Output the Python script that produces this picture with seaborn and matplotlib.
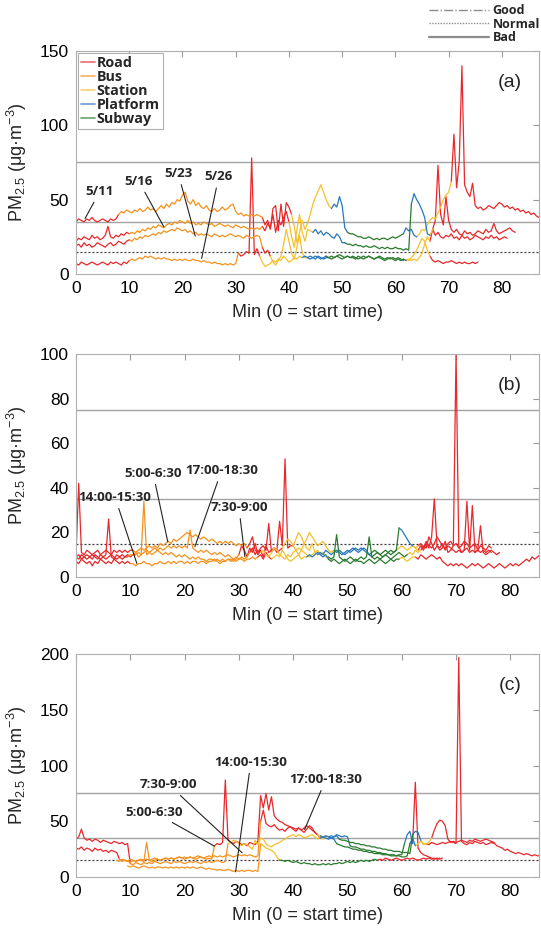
import numpy as np
import pandas as pd
import matplotlib
matplotlib.use("Agg")
import matplotlib.pyplot as plt
import seaborn as sns
from matplotlib.lines import Line2D

sns.set_theme(style="white")
plt.rcParams["font.family"] = ["Liberation Sans", "DejaVu Sans"]
plt.rcParams["mathtext.fontset"] = "custom"
plt.rcParams["mathtext.rm"] = "Liberation Sans"
plt.rcParams["mathtext.it"] = "Liberation Sans"

MODES = ["Road", "Bus", "Station", "Platform", "Subway"]
COLORS = {"Road": "#e8282b", "Bus": "#f5921e", "Station": "#f6c02c",
          "Platform": "#2878bd", "Subway": "#2a7b2e"}

# ---------------- Panel (a) : trips by date ----------------
A_0511 = [
    ("Road", 0, [35,37,36,35,37,36,38,36,35,36,37,36,35,37,36,37]),
    ("Bus", 8, [40,42,41,43,42,41,43,42,44,42,43,45,43,44,42,44,46,44,47,45,48,47,50,49,53,55,49,47,50,46,48,45,44,46,43,42,44,42,43,45,43,44,46,47,42,40,41,39,40,39,40,39,40,39]),
    ("Road", 35, [38,33,36,30,44,46,29,47,32,48,45]),
    ("Station", 40.5, [40,32,21,28,36,30,34,40,47,52,56,60,55,50,46]),
    ("Platform", 48, [44,47,45,52,46,31]),
    ("Subway", 51, [28,27,27,26,25,25,24,24,25,24,23,24,23,24,24,23,24,25,24,25,26]),
    ("Platform", 61.5, [27,31,29,30,26]),
    ("Station", 64, [25,27,30,29,33,36,38,37,41,45,50,53,55]),
    ("Road", 70.5, [62,94,58,76,140,60,55,52,61,46,44,45,43,44,46,45,44,46,48,47,45,46,44,45,43,44,42,43,41,42,40,41,39,38]),
]
A_0516 = [
    ("Road", 0, [22,24,23,25,24,23,26,24,25,23,24,26,32,25,24,26,25,27,26,28]),
    ("Bus", 10, [27,28,27,29,28,30,29,31,30,32,31,33,32,31,33,34,33,35,34,36,35,34,36,34,35,33,34,33,35,34,33,34,32,33,34,33,32,33,32,31,33,32,31,32,31,30,31,30,31,30]),
    ("Road", 35, [32,29,34,31,40,28,36,33,38,42]),
    ("Station", 40, [35,25,18,30,40,28,22,30,29]),
    ("Platform", 44.5, [28,30,27,29,26,28,27,25,24,27,25,21]),
    ("Subway", 50.5, [21,20,20,19,20,19,19,18,19,18,18,19,18,17,18,17,18,17,17,18,17,17,16,17,16]),
    ("Platform", 63, [47,54,50,47,43,38,27]),
    ("Station", 66.5, [26]),
    ("Road", 67, [30,36,73,40,33,52,36,30,28,30,27,26,29,27,28,26,27,29,28,27,30,28,29,34,29,27,28,29,30,31,29,28]),
]
A_0523 = [
    ("Road", 0, [19,20,18,21,19,20,18,19,21,20,19,18,20,21,19,20,22,21,20,22]),
    ("Bus", 10, [23,22,24,23,25,24,26,25,26,27,26,28,27,29,28,29,30,29,31,30,29,30,28,29,27,28,26,27,26,27,26,25,27,26,25,26,25,26,27,26,25,26,25,24,26,25,24,25,26,25]),
    ("Road", 35, [18,14,16]),
    ("Station", 36.5, [12,8,6,9,12,20,30,22,14,10,18,26,14,11]),
    ("Platform", 43.5, [11,12,11,10,12,11,10,11]),
    ("Subway", 47.5, [11,10,11,12,11,10,11,12,11,11,10,12,11,10,11,12,11,10,11,11,10,9,10,11,10,9,10,9]),
    ("Platform", 61.5, [10]),
    ("Station", 62, [9,10,9,10,9,11,14,20,25]),
    ("Road", 66.5, [22,30,26,28,25,24,26,25,27,24,25,23,26,24,25,23,24,26,25,24,23,25,24,26,24,25,23,24,25,24]),
]
A_0526 = [
    ("Road", 0, [7,6,8,7,6,7,8,7,6,7,8,7,6,8,7,8,7,6,8,7]),
    ("Bus", 10, [9,10,9,10,11,10,12,11,12,11,10,11,10,11,10,10,9,10,9,10,9,10,9,9,10,9,9,8,9,8,8,7,8,7,7,6,7,6,7,6,7]),
    ("Road", 30.5, [14,12,13,15,14,78,13,17]),
    ("Station", 34.5, [12,8,5,6,7,9,8,10,9,12,10,8,9,11,10,12]),
    ("Platform", 42.5, [11,12,11,10,11,12,11,10,11]),
    ("Subway", 47, [12,11,12,11,12,13,12,11,12,11,12,11,10,11,12,11,12,11,10,11,12,11,10,11,10,11,10,11]),
    ("Platform", 61, [10]),
    ("Station", 61.5, [9,10,9,11,13,16,20,24,22,16]),
    ("Road", 66.5, [12,9,8,9,8,7,8,8,9,8,7,8,7,8,7,7,8,7,8]),
]

# ---------------- Panel (b) : trips by time slot ----------------
B_1400 = [
    ("Road", 0, [7,6,8,7,6,7,5,7,6,8,7,6,7,6,8,7,6,7,6,7]),
    ("Bus", 10, [6,6,5,6,6,7,6,6,5,6,6,7,6,6,7,6,7,6,7,7,6,7,6,7,7,6,7,7,6,7,7,8,7,6,7,7,8,7,8,7,8,8,7,8,8,9,8]),
    ("Road", 33.5, [9,10,8,11,9]),
    ("Station", 36, [8,9,10,9,12,10,8,7,8,9,10,8,9]),
    ("Platform", 42.5, [9,10,9,10,11,10,9,10]),
    ("Subway", 46.5, [8,7,8,7,6,7,8,7,6,7,8,7,7,6,7,8,7,6,7,8,7,6,7,8,7,8]),
    ("Station", 59.5, [8,9,8,7,8,9]),
    ("Road", 62.5, [9,8,10,9,8,9,10,9,8,9,7,6,5,6,5,6,5,6,5,4,5,6,5,6,5,4,5,6,5,4,5,6,5,4,5,6,5,6,5,6,7,8,7,9,8,9,10,9]),
]
B_0500 = [
    ("Road", 0, [10,42,11,10,12,11,10,11,12,10,11,12,11,10,12,11,12,11,12,11,12]),
    ("Bus", 10.5, [12,11,12,13,12,13,14,13,14,13,15,14,15,16,15,17,16,17,18,19,20,19,18,19,18,17,18,17,16,17,16,15,16,15,16,15,16,15,14,15,14,15]),
    ("Road", 31.5, [13,15,18,12,11,13,14,12,24,11,13,12,25,14,53,13,14]),
    ("Station", 40, [14,17,20,18,15,13,12,15,11]),
    ("Platform", 44.5, [10,11,10,12,11,10,11,12,11,10,11,12,11,12,13,12,13,12,11,10]),
    ("Subway", 54.5, [9,10,11,10,9,10,11,10,11,12]),
    ("Platform", 59.5, [22,21,19,17,15]),
    ("Station", 62, [14,13]),
    ("Road", 63, [12,14,12,15,13,18,35,14,12,13,16,11,12,14,100,14,11,12,13,11,12,11,12,11,12,11,12,11]),
]
B_1700 = [
    ("Road", 0, [9,10,8,9,10,9,8,10,9,8,9,10,26,9,8,10,9,8,9,10,9,10]),
    ("Bus", 11, [10,11,10,11,12,11,12,13,12,13,12,13,14,13,14,13,14,13,14,13,21,13,12,11,12,11,12,11,10,11,10,11,10,9,10,9,8,9,8,9,8,9]),
    ("Road", 32, [11,13,10,12]),
    ("Station", 34, [11,12,10,9,11,13,12,10,9,8,10,9,11,12,13,12,11,10,9,10,11,12,10,11,9]),
    ("Subway", 46.5, [9,8,9,19,9,8,7,8,9,8,7,8,9,8,9,18,9,8,9,8,9,10,9,8,9,10,11,10,9]),
    ("Station", 61, [10,11,10,12,11]),
    ("Road", 63.5, [12,14,13,18,15,12,14,13,15,12,14,13,12,11,12,11,12,34,12,32,11,12,23,11,10,11,12,11,10,11]),
]
B_0730 = [
    ("Road", 0, [9,8,10,9,8,9,10,9,8,10,9,8,9,10,9,8,9,10,9]),
    ("Bus", 9.5, [9,10,10,11,9,10,34,10,11,10,11,12,11,10,11,10,11,10,9,10,9,10,9,8,9,8,9,8,8,7,8,8,7,8,7,8,7,8,8,7,8]),
    ("Road", 30, [10,14,12,9,13,11,15,10,12,9,14,11,12,13,11,12]),
    ("Station", 38, [13,15,17,16,14,12,10,12,15,17,20,18,16,14,15,16,14,12,11]),
    ("Platform", 47.5, [12,11,12,11,10,11,12,13,12,11,12,13,12]),
    ("Subway", 54, [10,11,12,11,10,11,12,11,12,11]),
    ("Station", 59, [12,13,14,13,12,13,14,13]),
    ("Road", 63, [14,15,13,16,14,13,15,18,16,14,13,15,16,14,15,13,14,16,15,13,14,15,12,14,13,12,14,13]),
]

# ---------------- Panel (c) : trips by time slot ----------------
C_0500 = [
    ("Road", 0, [26,25,27,24,26,25,23,26,24,25,23,24,22,24,23,22]),
    ("Bus", 8, [16,14,15,14,16,15,14,15,16,15,16,15,16,17,16,15,16,17,16,17,16,17,18,17,16,17,18,17,16,17,18,17,16,17,16]),
    ("Road", 25.5, [28,30,29,31,87,33,31,30,32,31,29,30,28,31,30,29,32,73,62,75,60,72,55,52,50,49,47,46,45,44,43,44,42,44,46,44,42,40,38]),
    ("Platform", 45, [35,36,37,36,35,36,37]),
    ("Subway", 48.5, [34,33,33,32,31,31,30,30,29,29,28,28,27,27,26,26,25,25,24,24,23,23,23,22,22,22,21]),
    ("Platform", 62, [38,41,40]),
    ("Station", 63.5, [33,30,29,31]),
    ("Road", 65.5, [35,42,48,51,50,46,34,31,32,31,32,33,32,31,33,32,34,33,32,33,34,33,32,31,28,27,26,24,25,23,22,21,22,21,20,21,20,19,20,19,19,18]),
]
C_0730 = [
    ("Road", 0, [34,36,43,35,33,34,32,34,33,31,33,32,31,30,32,31,30,31,29,30]),
    ("Bus", 10, [12,11,13,12,11,13,12,13,12,14,13,12,13,14,13,12,14,13,14,13,12,13,14,13,14,13,12,14,13,14,13,14,15,14,13,14]),
    ("Station", 28, [30,31,33,32,30,28,30,29,27,25,33,29,35,34,30,28,27,29,30,31,33,34,36,37,38,36,38,37,35,36,37,38,36,34]),
    ("Platform", 45, [37,36,35,34,35,34]),
    ("Subway", 48, [30,29,28,27,27,26,25,25,24,24,23,23,22,22,21,21,21,20,20,20,19,19,19,20,20]),
    ("Platform", 60.5, [30,38,41]),
    ("Road", 62, [30,85,26,22,20,19,18,17,16,17,16,17]),
]
C_1400 = [
    ("Bus", 9.5, [10,9,10,9,8,9,10,9,8,9,8,9,9,8,9,8,9,8,9,8,9,8,9,8,9,8,8,9,8,7,8,7,7,6,7,6,6,7,6,5,6,5,6,5,6,6,5,6,5]),
    ("Station", 34, [30,28,26,25,24,22,18]),
    ("Subway", 37.5, [15,15,14,15,14,13,14,13,12,13,12,12,11,12,11,11,12,11,12,11,12,12,13,12,13,14,13,14,13,14,15,14,15,14,15,16]),
    ("Road", 55.5, [15,16,15,17,16,15,16,17,16,15,16,17,16,17,16,15,16,17,16,17,16,17,16,17]),
]
C_1700 = [
    ("Bus", 7.5, [15,14,16,15,14,13,15,14,15,15,14,31,15,14,15,16,15,16,17,16,17,16,17,18,17,18,17,18,17,18,19,18,17,18,19,18,19,18,19,18,19,20,19,18,19,20,19,20,19,20,19,18,19]),
    ("Road", 34, [50,60,48,46,45,47,44,42,43,41,44,45,43,41,44,42,40,43,46,44,40]),
    ("Station", 44.5, [38,36,34,37]),
    ("Platform", 46.5, [36,37,36,38,37,36,37,36]),
    ("Subway", 50.5, [28,27,27,26,25,25,24,24,23,23,22,22,21,21,20,20,20,19,19,18,18,19]),
    ("Platform", 61.5, [30,35]),
    ("Station", 62.5, [28,30,32,29]),
    ("Road", 64.5, [30,29,31,30,29,30,31,30,31,32,31,30,197,32,30,29,31,30,32,31,30,31,29,30,31,30]),
]

# annotations: (label, text position, pointed position)
ANN_A = [("5/11", (4.5, 55.7), (1.7, 37.3)), ("5/16", (11.8, 62.4), (16.5, 31.7)),
         ("5/23", (19.2, 67.5), (22.4, 25.5)), ("5/26", (26.8, 65.3), (23.6, 10.5))]
ANN_B = [("14:00-15:30", (7.2, 35.7), (11.2, 6.1)), ("5:00-6:30", (14.2, 46.5), (16.9, 15.8)),
         ("17:00-18:30", (26.8, 47.7), (21.9, 13.6)), ("7:30-9:00", (30.0, 31.2), (31.1, 9.1))]
ANN_C = [("14:00-15:30", (32.2, 103), (29.4, 4.7)), ("7:30-9:00", (17.1, 82.7), (30.6, 21.7)),
         ("5:00-6:30", (14.3, 58.3), (25.5, 27.7)), ("17:00-18:30", (46.0, 87.5), (42.1, 42.5))]

THRESH_SOLID = [75, 35]
THRESH_DOT = [15]


def build(trips):
    rows = []
    for tname, segs in trips:
        for k, (mode, x0, ys) in enumerate(segs):
            xs = [x0 + 0.5 * i for i in range(len(ys))]
            yv = list(ys)
            if k + 1 < len(segs):
                xs.append(segs[k + 1][1])
                yv.append(segs[k + 1][2][0])
            for x, y in zip(xs, yv):
                rows.append({"x": x, "y": y, "mode": mode, "seg": f"{tname}-{k}"})
    return pd.DataFrame(rows)


fig = plt.figure(figsize=(5.41, 9.35), dpi=100)
L, W, H = 0.1405, 0.856, 0.2385
panels = [
    ([("5/11", A_0511), ("5/16", A_0516), ("5/23", A_0523), ("5/26", A_0526)],
     0.7070, 87, 150, [0, 50, 100, 150], ANN_A, "(a)"),
    ([("1400", B_1400), ("0500", B_0500), ("1700", B_1700), ("0730", B_0730)],
     0.3829, 85.3, 100, [0, 20, 40, 60, 80, 100], ANN_B, "(b)"),
    ([("0500", C_0500), ("0730", C_0730), ("1400", C_1400), ("1700", C_1700)],
     0.0620, 85.3, 200, [0, 50, 100, 150, 200], ANN_C, "(c)"),
]

BOLD_FAMILY = ["Open Sans", "DejaVu Sans"]

for i, (trips, bottom, xmax, ymax, yticks, anns, tag) in enumerate(panels):
    ax = fig.add_axes([L, bottom, W, H])
    for t in THRESH_SOLID:
        ax.axhline(t, color="#a3a3a3", lw=1.0, zorder=1)
    for t in THRESH_DOT:
        ax.axhline(t, color="#3a3a3a", lw=0.9, ls=(0, (1.6, 1.6)), zorder=1)
    df = build(trips)
    sns.lineplot(data=df, x="x", y="y", hue="mode", units="seg", estimator=None,
                 sort=False, palette=COLORS, hue_order=MODES, legend=False,
                 linewidth=0.9, ax=ax, zorder=2)
    ax.set_xlim(0, xmax)
    ax.set_ylim(0, ymax)
    ax.set_xticks(range(0, 90, 10))
    ax.set_yticks(yticks)
    ax.tick_params(direction="in", top=True, right=True, length=4, width=0.8,
                   color="#9a9a9a", labelsize=12.5, labelcolor="black", pad=5)
    for sp in ax.spines.values():
        sp.set_color("#b0b0b0")
        sp.set_linewidth(0.8)
    ax.set_xlabel("Min (0 = start time)", fontsize=13, labelpad=6)
    ax.set_ylabel(r"PM$_{2.5}$ (μg·m$^{-3}$)", fontsize=13, labelpad=8)
    ax.text(0.937, 0.86, tag, transform=ax.transAxes, fontsize=14,
            ha="center", va="center")
    for lab, txy, pxy in anns:
        ax.annotate(lab, xy=pxy, xytext=txy, ha="center", va="center",
                    fontfamily=BOLD_FAMILY, fontweight="bold", fontsize=9.6,
                    arrowprops=dict(arrowstyle="-", color="#222222", lw=0.8,
                                    shrinkA=1, shrinkB=0), zorder=5)
    if i == 0:
        handles = [Line2D([], [], color=COLORS[m], lw=1.3, alpha=0.65) for m in MODES]
        leg = ax.legend(handles, MODES, loc="upper left", bbox_to_anchor=(0.0, 1.0),
                        borderaxespad=0.15, handlelength=1.0, handletextpad=0.1,
                        labelspacing=0.0, borderpad=0.2, fancybox=False,
                        framealpha=1, edgecolor="#b0b0b0",
                        prop=dict(family=BOLD_FAMILY, weight="bold", size=10.3))
        leg.get_frame().set_linewidth(0.8)

th = [Line2D([], [], color="#8c8c8c", lw=1.0, ls="-."),
      Line2D([], [], color="#8c8c8c", lw=1.0, ls=(0, (1, 1))),
      Line2D([], [], color="#8c8c8c", lw=1.6, ls="-")]
fig.legend(th, ["Good", "Normal", "Bad"], loc="upper right", bbox_to_anchor=(1.0, 0.997),
           frameon=False, handlelength=4.8, handletextpad=0.3, labelspacing=0.05,
           borderaxespad=0.1, borderpad=0.0,
           prop=dict(family=BOLD_FAMILY, weight="bold", size=9))

fig.savefig("out.png", dpi=100)
